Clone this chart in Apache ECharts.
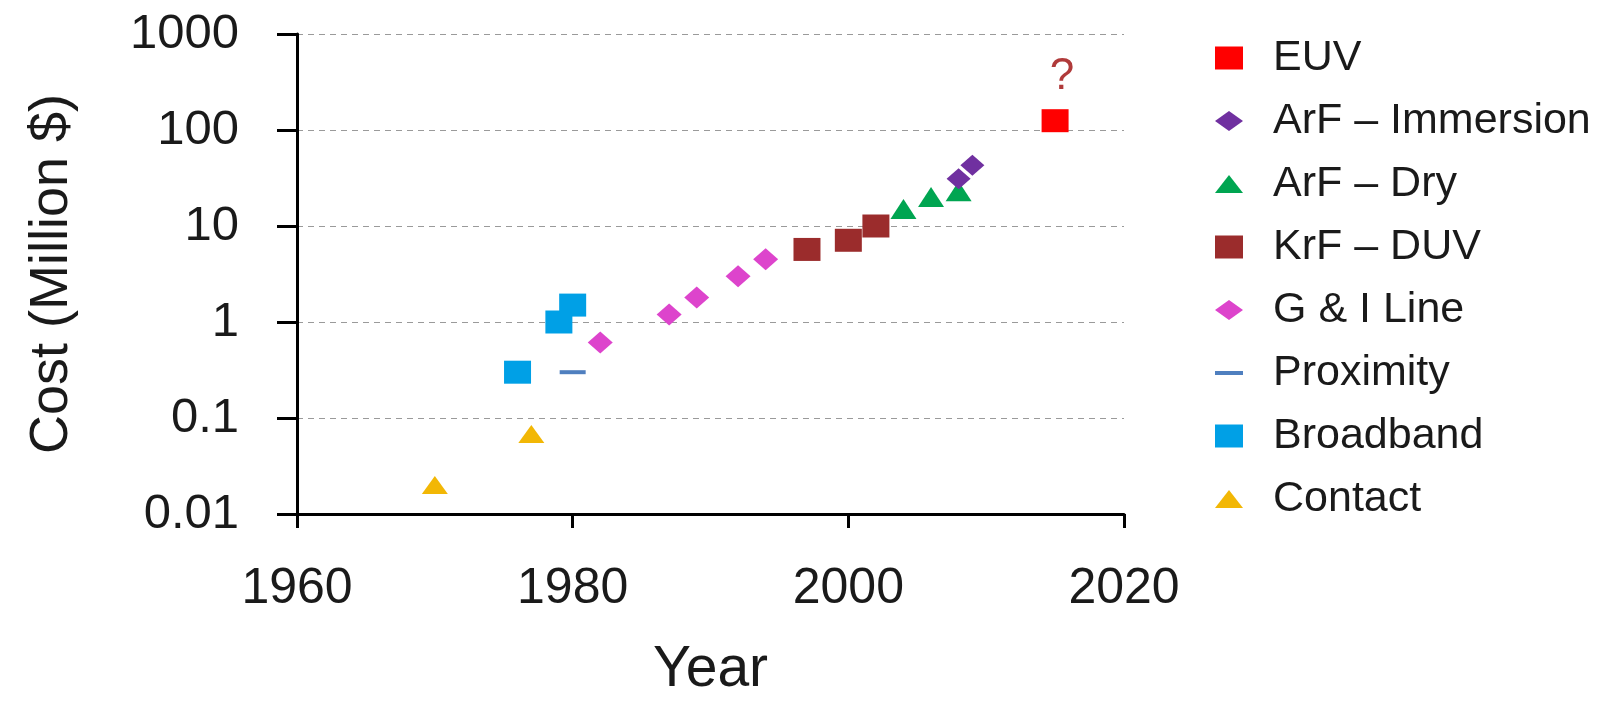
<!DOCTYPE html>
<html>
<head>
<meta charset="utf-8">
<title>Lithography tool cost</title>
<script src="https://cdn.jsdelivr.net/npm/echarts@6/dist/echarts.min.js"></script>
<style>
  html, body { margin: 0; padding: 0; background: #ffffff; }
  #chart { width: 1606px; height: 704px; }
</style>
</head>
<body>
<div id="chart"></div>
<script>
// Tool cost (million $) by year of introduction, per lithography technology
const seriesNames = ['EUV', 'ArF – Immersion', 'ArF – Dry', 'KrF – DUV', 'G & I Line', 'Proximity', 'Broadband', 'Contact'];

const euvYears = [2015];
const euvCost = [125];

const immersionYears = [2008, 2009];
const immersionCost = [31, 43];

const dryYears = [2004, 2006, 2008];
const dryCost = [15, 20, 23];

const krfYears = [1997, 2000, 2002];
const krfCost = [5.7, 7.1, 10];

const gLineYears = [1982, 1987, 1989, 1992, 1994];
const gLineCost = [0.61, 1.2, 1.8, 3, 4.5];

const proximityYears = [1980];
const proximityCost = [0.3];

const broadbandYears = [1976, 1979, 1980];
const broadbandCost = [0.3, 1, 1.5];

const contactYears = [1970, 1977];
const contactCost = [0.02, 0.068];

const xTickLabels = ['1960', '1980', '2000', '2020'];
const yTickLabels = ['0.01', '0.1', '1', '10', '100', '1000'];

const euvNote = '?';

const FONT = 'Liberation Sans, Arial, Helvetica, sans-serif';

function pairs(xs, ys) {
  return xs.map((x, i) => [x, ys[i]]);
}

// marker shapes and colours per technology
const styles = {
  'EUV':             { color: '#ff0000', symbol: 'rect',     size: [27, 23], icon: 'path://M0,0H28V23H0Z' },
  'ArF – Immersion': { color: '#7030a0', symbol: 'diamond',  size: [24, 21], icon: 'path://M14,0L28,10L14,20L0,10Z' },
  'ArF – Dry':       { color: '#00a551', symbol: 'triangle', size: [26, 20], icon: 'path://M14,0L28,18H0Z' },
  'KrF – DUV':       { color: '#9b2c2c', symbol: 'rect',     size: [27, 23], icon: 'path://M0,0H28V23H0Z' },
  'G & I Line':      { color: '#dd44cc', symbol: 'diamond',  size: [25, 22], icon: 'path://M14,0L28,10L14,20L0,10Z' },
  'Proximity':       { color: '#4f7fbf', symbol: 'rect',     size: [26, 4],  icon: 'path://M0,0H28V4H0Z' },
  'Broadband':       { color: '#00a0e6', symbol: 'rect',     size: [27, 23], icon: 'path://M0,0H28V23H0Z' },
  'Contact':         { color: '#f2b705', symbol: 'triangle', size: [26, 18], icon: 'path://M14,0L28,18H0Z' }
};

const dataByName = {
  'EUV': pairs(euvYears, euvCost),
  'ArF – Immersion': pairs(immersionYears, immersionCost),
  'ArF – Dry': pairs(dryYears, dryCost),
  'KrF – DUV': pairs(krfYears, krfCost),
  'G & I Line': pairs(gLineYears, gLineCost),
  'Proximity': pairs(proximityYears, proximityCost),
  'Broadband': pairs(broadbandYears, broadbandCost),
  'Contact': pairs(contactYears, contactCost)
};

// draw older technologies first so later ones sit on top
const series = seriesNames.slice().reverse().map(name => {
  const s = styles[name];
  const item = {
    name: name,
    type: 'scatter',
    data: dataByName[name],
    symbol: s.symbol,
    symbolSize: s.size,
    itemStyle: { color: s.color, opacity: 1 },
    emphasis: { disabled: true },
    animation: false
  };
  if (name === 'EUV') {
    item.label = {
      show: true,
      position: 'top',
      distance: 10,
      offset: [7, 0],
      formatter: () => euvNote,
      color: '#b03a3a',
      fontFamily: FONT,
      fontSize: 44,
      lineHeight: 44
    };
  }
  return item;
});

function yLabel(v) {
  const n = Number(Number(v).toPrecision(6));
  const hit = yTickLabels.find(t => Math.abs(Number(t) - n) < 1e-9 * Math.max(1, n));
  return hit !== undefined ? hit : String(n);
}

function xLabel(v) {
  const hit = xTickLabels.find(t => Number(t) === Math.round(v));
  return hit !== undefined ? hit : '';
}

const chart = echarts.init(document.getElementById('chart'), null, { renderer: 'canvas' });

chart.setOption({
  backgroundColor: '#ffffff',
  animation: false,
  grid: { left: 297, right: 482, top: 34, bottom: 183 },
  legend: {
    orient: 'vertical',
    left: 1215,
    top: 33,
    padding: 0,
    itemGap: 13,
    itemWidth: 28,
    itemHeight: 23,
    symbolKeepAspect: true,
    selectedMode: false,
    data: seriesNames.map(n => ({ name: n, icon: styles[n].icon })),
    textStyle: {
      fontFamily: FONT,
      fontSize: 43,
      lineHeight: 50,
      color: '#1a1a1a',
      padding: [0, 0, 0, 25]
    }
  },
  xAxis: {
    type: 'value',
    min: 1960,
    max: 2020,
    interval: 20,
    name: 'Year',
    nameLocation: 'middle',
    nameGap: 128,
    nameTextStyle: { fontFamily: FONT, fontSize: 57, color: '#1a1a1a' },
    axisLine: { show: true, lineStyle: { color: '#000000', width: 3 } },
    axisTick: { show: true, inside: false, length: 14, lineStyle: { color: '#000000', width: 3 } },
    axisLabel: { margin: 50, fontFamily: FONT, fontSize: 50, color: '#1a1a1a', formatter: xLabel },
    splitLine: { show: false }
  },
  yAxis: {
    type: 'log',
    logBase: 10,
    min: 0.01,
    max: 1000,
    name: 'Cost (Million $)',
    nameLocation: 'middle',
    nameGap: 218,
    nameTextStyle: { fontFamily: FONT, fontSize: 54, color: '#1a1a1a' },
    axisLine: { show: true, lineStyle: { color: '#000000', width: 3 } },
    axisTick: { show: true, inside: false, length: 20, lineStyle: { color: '#000000', width: 3 } },
    axisLabel: { margin: 58, fontFamily: FONT, fontSize: 49, color: '#1a1a1a', formatter: yLabel },
    splitLine: { show: true, lineStyle: { color: '#9a9a9a', width: 1, type: [6, 5] } }
  },
  series: series
});
</script>
</body>
</html>
